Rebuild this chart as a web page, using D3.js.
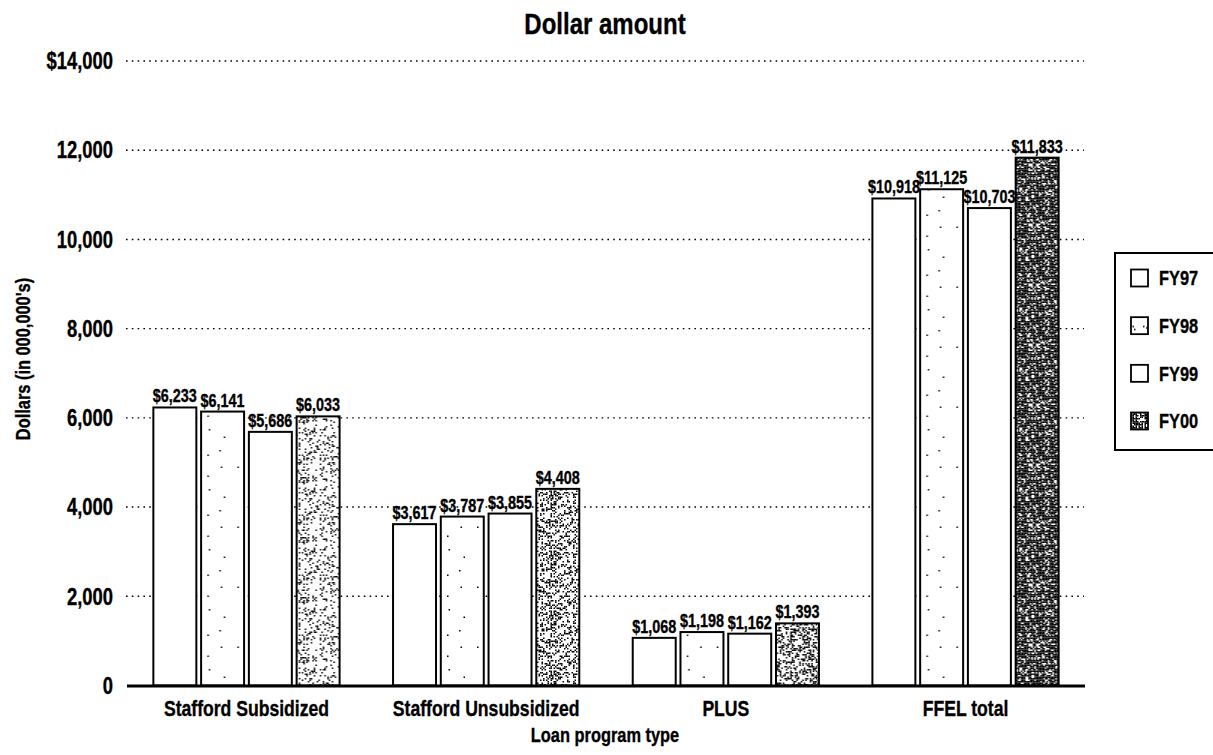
<!DOCTYPE html>
<html><head><meta charset="utf-8">
<script src="https://cdn.jsdelivr.net/npm/d3@7"></script>
<style>
body{margin:0;background:#fff}
text{font-family:"Liberation Sans",Arial,"Noto Sans",sans-serif;font-weight:bold;fill:#000;stroke:#000;stroke-width:0.35px}
</style>
</head><body>
<svg id="c" width="1213" height="755"></svg>
<script>
// ---- data ----
const categories = ["Stafford Subsidized", "Stafford Unsubsidized", "PLUS", "FFEL total"];
const seriesNames = ["FY97", "FY98", "FY99", "FY00"];
const fy97 = [6233, 3617, 1068, 10918];
const fy98 = [6141, 3787, 1198, 11125];
const fy99 = [5686, 3855, 1162, 10703];
const fy00 = [6033, 4408, 1393, 11833];
const yTicks = [0, 2000, 4000, 6000, 8000, 10000, 12000, 14000];
const yTickLabels = ["0", "2,000", "4,000", "6,000", "8,000", "10,000", "12,000", "$14,000"];
const chartTitle = "Dollar amount";
const xTitle = "Loan program type";
const yTitle = "Dollars (in 000,000's)";

const seriesValues = [fy97, fy98, fy99, fy00];

// ---- styling ----
const fy00Density = [0.16, 0.3, 0.38, 0.74]; // scan texture darkness per group
const NARROW = 0.8; // horizontal squeeze to mimic a condensed typeface

const svg = d3.select("#c");
const defs = svg.append("defs");
function hash(i, j, s) {
  let h = Math.imul(s + 0x9e3779b9, 0x85ebca6b);
  h ^= h >>> 13;
  h = Math.imul(h ^ i, 0xc2b2ae35);
  h ^= h >>> 16;
  h = Math.imul(h ^ j, 0x27d4eb2d);
  h ^= h >>> 15;
  h = Math.imul(h, 0x85ebca6b);
  h ^= h >>> 13;
  return (h >>> 0) / 4294967296;
}
function makePattern(id, size, cell, density, seed) {
  const p = defs.append("pattern").attr("id", id)
    .attr("patternUnits", "userSpaceOnUse").attr("width", size).attr("height", size);
  p.append("rect").attr("width", size).attr("height", size).attr("fill", "#fff");
  const n = Math.round(size / cell);
  for (let i = 0; i < n; i++) for (let j = 0; j < n; j++) {
    if (hash(i, j, seed) < density) {
      p.append("rect").attr("x", i * cell).attr("y", j * cell)
        .attr("width", cell).attr("height", cell).attr("fill", "#000");
    }
  }
}
makePattern("p98", 60, 1.5, 0.012, 3);
fy00Density.forEach((d, k) => makePattern("p00_" + k, 60, 1.5, d, 11 + k));
makePattern("p98_leg", 18, 1.5, 0.06, 5);
makePattern("p00_leg", 18, 1.5, 0.65, 21);

function fillFor(s, k) {
  if (s === 1) return "url(#p98)";
  if (s === 3) return "url(#p00_" + k + ")";
  return "#fff";
}

// condensed text helper
function ntext(sel, size, anchor) {
  return sel.style("font-size", size + "px").attr("text-anchor", anchor || "middle");
}
function place(x, y, rot) {
  return `translate(${x},${y})${rot ? ` rotate(${rot})` : ""} scale(${NARROW},1)`;
}

// ---- scales ----
const x0 = d3.scaleBand().domain(categories).range([127, 1085])
  .paddingInner(0.223).paddingOuter(0.11);
const x1 = d3.scaleBand().domain(seriesNames).range([0, x0.bandwidth()])
  .paddingInner(0.1).paddingOuter(0);
const y = d3.scaleLinear().domain([0, 14000]).range([685.5, 61]);

// ---- title ----
ntext(svg.append("text").attr("transform", place(605, 34)), 30).text(chartTitle);

// ---- gridlines ----
svg.append("g").selectAll("line").data(yTicks.filter(t => t > 0)).join("line")
  .attr("x1", 126).attr("x2", 1084)
  .attr("y1", d => y(d)).attr("y2", d => y(d))
  .attr("stroke", "#000").attr("stroke-width", 1.4)
  .attr("stroke-dasharray", "1.6,4.2");

// ---- y tick labels ----
ntext(svg.append("g").selectAll("text").data(yTicks).join("text")
  .attr("transform", d => place(113, y(d))).attr("dy", "0.36em"), 23, "end")
  .text((d, i) => yTickLabels[i]);

// ---- bars ----
const groups = svg.append("g").selectAll("g").data(categories).join("g")
  .attr("transform", d => `translate(${x0(d)},0)`);
groups.each(function (cat, k) {
  const g = d3.select(this);
  const rows = seriesNames.map((s, si) => ({ s, si, v: seriesValues[si][k] }));
  g.selectAll("rect").data(rows).join("rect")
    .attr("x", d => x1(d.s)).attr("y", d => y(d.v))
    .attr("width", x1.bandwidth()).attr("height", d => y(0) - y(d.v))
    .attr("fill", d => fillFor(d.si, k))
    .attr("stroke", "#000").attr("stroke-width", 2);
  ntext(g.selectAll("text").data(rows).join("text")
    .attr("transform", d => place(x1(d.s) + x1.bandwidth() / 2, y(d.v) - 5)), 18)
    .text(d => "$" + d3.format(",")(d.v));
});

// ---- x axis ----
svg.append("line").attr("x1", 127).attr("x2", 1085)
  .attr("y1", y(0) + 0.5).attr("y2", y(0) + 0.5)
  .attr("stroke", "#000").attr("stroke-width", 3);
ntext(svg.append("g").selectAll("text").data(categories).join("text")
  .attr("transform", d => place(x0(d) + x0.bandwidth() / 2, 716)), 22).text(d => d);

ntext(svg.append("text").attr("transform", place(605, 742)), 20.5).text(xTitle);
ntext(svg.append("text").attr("transform", place(30, 359, -90)), 20.5).text(yTitle);

// ---- legend ----
const leg = svg.append("g");
leg.append("rect").attr("x", 1115).attr("y", 253).attr("width", 120).attr("height", 197)
  .attr("fill", "#fff").attr("stroke", "#000").attr("stroke-width", 2);
const legFill = ["#fff", "url(#p98_leg)", "#fff", "url(#p00_leg)"];
const legY = d3.scalePoint().domain(seriesNames).range([278, 421]);
const li = leg.selectAll("g").data(seriesNames).join("g")
  .attr("transform", d => `translate(0,${legY(d)})`);
li.append("rect").attr("x", 1131).attr("y", -8.5).attr("width", 17).attr("height", 17)
  .attr("fill", (d, i) => legFill[i]).attr("stroke", "#000").attr("stroke-width", 1.8);
ntext(li.append("text").attr("transform", place(1159, 0)).attr("dy", "0.36em"), 20.5, "start")
  .text(d => d);
</script>
</body></html>
